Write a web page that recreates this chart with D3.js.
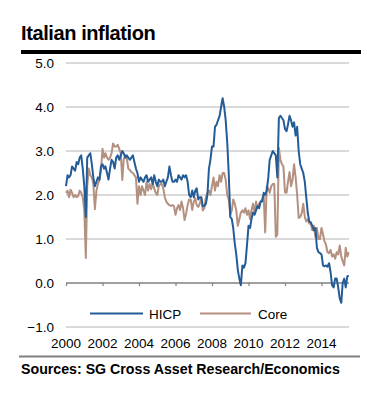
<!DOCTYPE html>
<html>
<head>
<meta charset="utf-8">
<script src="https://cdn.jsdelivr.net/npm/d3@7"></script>
<style>
  html, body { margin: 0; padding: 0; background: #fff; }
  svg { display: block; font-family: "Liberation Sans", Arial, Helvetica, sans-serif; }
</style>
</head>
<body>
<svg id="chart" width="367" height="403"></svg>
<script>
// ---- Data (monthly, Jan 2000 – Jul 2015, % y/y) ----
const startMonth = "2000-01";
const hicp = [
  2.2, 2.45, 2.4, 2.45, 2.65, 2.6, 2.55, 2.75, 2.7, 2.85, 2.9, 2.6,
  2.2, 1.5, 2.85, 2.9, 2.95, 2.7, 2.4, 2.2, 2.3, 2.4, 2.35, 2.65,
  2.7, 2.6, 2.65, 2.5, 2.35, 2.6, 2.8, 2.75, 2.6, 2.85, 2.9, 2.8,
  2.9, 3.0, 2.95, 2.85, 2.9, 2.85, 2.8, 2.85, 2.9, 2.75, 2.6, 2.5,
  2.3, 2.4, 2.35, 2.3, 2.4, 2.45, 2.3, 2.35, 2.4, 2.25, 2.45, 2.3,
  2.2, 2.35, 2.3, 2.3, 2.35, 2.2, 2.3, 2.4, 2.65, 2.45, 2.3, 2.3,
  2.35, 2.3, 2.45, 2.4, 2.35, 2.45, 2.4, 2.45, 2.3, 2.0, 1.95, 2.1,
  1.95, 2.1, 2.15, 1.9, 1.95, 1.95, 1.75, 1.75, 1.8, 2.0, 2.6, 2.8,
  3.1, 3.1, 3.55, 3.6, 3.7, 3.8, 4.0, 4.2, 4.0, 3.7, 3.2, 2.5,
  1.5, 1.45, 1.25, 0.9, 0.65, 0.3, 0.1, -0.05, 0.4, 0.35, 0.45, 0.85,
  1.3, 1.25, 1.45, 1.6, 1.55, 1.65, 1.75, 1.7, 1.85, 1.85, 2.05, 2.0,
  2.1, 2.4, 2.8, 2.9, 3.0, 2.95, 2.9, 2.4, 3.75, 3.8, 3.75, 3.7,
  3.5, 3.45, 3.6, 3.8, 3.7, 3.55, 3.65, 3.35, 3.55, 3.0, 2.7, 2.6,
  2.5, 2.3, 1.95, 1.6, 1.4, 1.38, 1.3, 1.2, 1.25, 0.8, 0.7, 0.68,
  0.65, 0.4, 0.38, 0.4, 0.37, 0.45, 0.25, -0.05, -0.1, 0.1, 0.1, -0.1,
  -0.35, -0.45, 0.0, 0.1, -0.1, 0.15, 0.17
];
const core = [
  2.05, 2.1, 1.95, 2.12, 2.05, 1.95, 2.0, 1.95, 1.98, 2.1, 2.05, 1.95,
  1.65, 0.57, 2.2, 2.6, 2.45, 2.4, 2.25, 1.68, 2.1, 2.25, 2.35, 2.55,
  3.05, 2.85, 2.95, 2.85, 2.8, 2.85, 2.95, 3.17, 3.1, 3.1, 3.14, 3.05,
  2.95, 2.34, 2.8, 2.9, 2.85, 2.6, 2.57, 2.52, 2.5, 2.45, 2.4, 1.8,
  2.2, 2.0, 2.2, 2.1, 2.0, 2.3, 2.1, 2.25, 2.13, 2.27, 2.15, 2.05,
  2.0, 2.2, 2.25, 2.25, 2.15, 1.95, 1.85, 1.8, 1.77, 1.75, 1.77, 1.75,
  1.55, 1.7, 1.77, 1.66, 1.85, 1.7, 1.43, 1.58, 1.77, 1.9, 1.9, 1.66,
  1.85, 1.93, 1.77, 1.73, 1.8, 1.93, 1.65, 1.7, 1.95, 2.05, 2.1, 2.0,
  2.2, 2.4, 2.1, 2.3, 2.2, 2.45, 2.3, 2.5, 2.5, 2.35, 2.0, 1.9,
  1.55, 1.65, 1.9, 1.8, 1.65, 1.3, 1.45, 1.6, 1.65, 1.6, 1.7, 1.55,
  1.65, 1.45, 1.65, 1.8, 1.6, 1.85, 1.7, 1.8, 1.85, 1.9, 2.0, 1.15,
  2.2, 2.15, 2.05, 2.2, 2.25, 2.25, 1.05, 1.1, 3.07, 2.8, 2.7, 2.65,
  2.06, 2.05, 2.3, 2.52, 2.2, 2.35, 2.7, 2.4, 2.0, 1.48, 1.5, 1.58,
  1.8, 1.5, 1.4, 1.45, 1.35, 1.35, 1.2, 1.3, 1.05, 1.25, 1.0, 1.0,
  1.25, 1.1, 0.95, 0.87, 0.7, 0.68, 0.75, 0.6, 0.65, 0.55, 0.7, 0.65,
  0.85, 0.6, 0.5, 0.4, 0.8, 0.6, 0.7
];
const seriesNames = ["HICP", "Core"];
const xTickYears = [2000, 2002, 2004, 2006, 2008, 2010, 2012, 2014];
const yTickValues = [-1, 0, 1, 2, 3, 4, 5];
const titleText = "Italian inflation";
const sourceText = "Sources: SG Cross Asset Research/Economics";

// ---- Styles / layout ----
const colors = { HICP: "#245c97", Core: "#b3907f" };
const svg = d3.select("#chart");

const parseMonth = d3.timeParse("%Y-%m");
const start = parseMonth(startMonth);
const dates = hicp.map((_, i) => d3.timeMonth.offset(start, i));

const x = d3.scaleTime()
  .domain([new Date(2000, 0, 1), new Date(2014, 0, 1)])
  .range([66, 321.5]);
const y = d3.scaleLinear().domain([-1, 5]).range([327, 63]);
const plotRight = 349;

// Title
svg.append("text")
  .attr("x", 21).attr("y", 40)
  .attr("font-size", 20).attr("font-weight", "bold")
  .attr("letter-spacing", -0.4)
  .attr("fill", "#000")
  .text(titleText);

svg.append("rect").attr("x", 21).attr("y", 50).attr("width", 340).attr("height", 4).attr("fill", "#000");

// Gridlines
svg.append("g").selectAll("line")
  .data(yTickValues.filter(d => d !== 0))
  .join("line")
  .attr("x1", 66).attr("x2", plotRight)
  .attr("y1", d => y(d)).attr("y2", d => y(d))
  .attr("stroke", "#dadada").attr("stroke-width", 1.8);

// Y labels
svg.append("g").selectAll("text")
  .data(yTickValues)
  .join("text")
  .attr("x", 54).attr("y", d => y(d))
  .attr("dy", "0.36em")
  .attr("text-anchor", "end")
  .attr("font-size", 13.5)
  .attr("fill", "#000")
  .text(d => d3.format(".1f")(d));

// Zero axis with ticks
const xAxis = d3.axisBottom(x)
  .tickValues(xTickYears.map(yr => new Date(yr, 0, 1)))
  .tickSize(3)
  .tickFormat("");
const axisG = svg.append("g").attr("transform", `translate(0,${y(0)})`).call(xAxis);
axisG.select(".domain").attr("d", `M66,0H${plotRight}`).attr("stroke", "#808080").attr("stroke-width", 1.6);
axisG.selectAll(".tick line").attr("stroke", "#808080").attr("stroke-width", 1.2);

// X labels
svg.append("g").selectAll("text")
  .data(xTickYears)
  .join("text")
  .attr("x", d => x(new Date(d, 0, 1)))
  .attr("y", 348)
  .attr("text-anchor", "middle")
  .attr("font-size", 13.5)
  .attr("fill", "#000")
  .text(d => d);

// Lines
const line = d3.line()
  .x((d, i) => x(dates[i]))
  .y(d => y(d));

svg.append("path").datum(core)
  .attr("d", line).attr("fill", "none")
  .attr("stroke", colors.Core).attr("stroke-width", 2).attr("stroke-linejoin", "round");
svg.append("path").datum(hicp)
  .attr("d", line).attr("fill", "none")
  .attr("stroke", colors.HICP).attr("stroke-width", 2).attr("stroke-linejoin", "round");

// Legend
const legendItems = [
  { name: seriesNames[0], x1: 90, x2: 143, tx: 149 },
  { name: seriesNames[1], x1: 200, x2: 251, tx: 258 }
];
const lg = svg.append("g");
legendItems.forEach(it => {
  lg.append("line").attr("x1", it.x1).attr("x2", it.x2).attr("y1", 313.5).attr("y2", 313.5)
    .attr("stroke", colors[it.name]).attr("stroke-width", 2);
  lg.append("text").attr("x", it.tx).attr("y", 318.5)
    .attr("font-size", 13.5).attr("fill", "#000").text(it.name);
});

// Bottom rule and source
svg.append("rect").attr("x", 19).attr("y", 355.5).attr("width", 341).attr("height", 2).attr("fill", "#808080");
svg.append("text")
  .attr("x", 21).attr("y", 374)
  .attr("font-size", 14.2).attr("font-weight", "bold")
  .attr("fill", "#000")
  .text(sourceText);
</script>
</body>
</html>
